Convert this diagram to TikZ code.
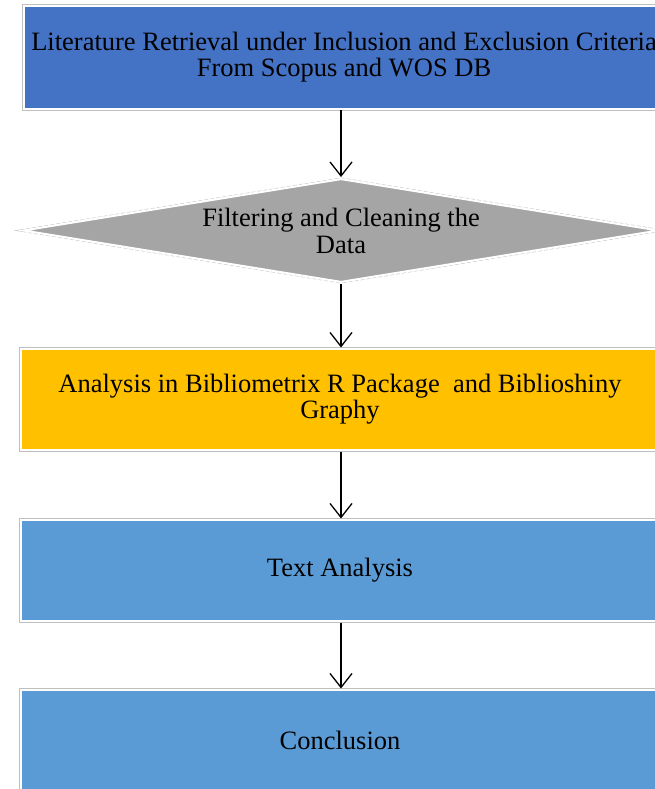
\documentclass[tikz,border=0pt]{standalone}
\usepackage{fontspec}
\setmainfont{Liberation Serif}
\usetikzlibrary{positioning}
\usetikzlibrary{shapes.geometric}
\usetikzlibrary{arrows.meta}

\definecolor{stepblue}{HTML}{4472C4}
\definecolor{stepgray}{HTML}{A5A5A5}
\definecolor{stepgold}{HTML}{FFC000}
\definecolor{steplight}{HTML}{5B9BD5}

\tikzset{
 stepbox/.style={rectangle,draw=white,line width=2pt,
   preaction={draw=gray!50,line width=3.2pt},
   minimum width=638pt,minimum height=101pt,inner sep=0pt,outer sep=1.5pt,
   align=center,font=\fontsize{26.5}{26}\selectfont},
 stepcheck/.style={diamond,draw=white,line width=2pt,
   preaction={draw=gray!40,line width=3.2pt,dash pattern=on 4pt off 2pt},
   shape aspect=6.1,minimum width=636pt,minimum height=104pt,inner sep=0pt,
   outer sep=1.5pt,align=center,font=\fontsize{26.5}{27}\selectfont},
 flow/.style={-{Straight Barb[length=14pt,width=22pt]},line width=1.3pt}
}

\begin{document}
\begin{tikzpicture}[x=1pt,y=-1pt]
 \useasboundingbox (0,0) rectangle (654,789);
 \node[stepbox,fill=stepblue,minimum width=640pt,minimum height=103pt] (retrieve) at (344,57.5)
   {Literature Retrieval under Inclusion and Exclusion Criteria\\From Scopus and WOS DB};
 \node[stepcheck,fill=stepgray] (filter) at (341,230.5)
   {Filtering and Cleaning the\\Data};
 \node[stepbox,fill=stepgold] (biblio) at (340,399.5)
   {Analysis in Bibliometrix R Package\ \ and Biblioshiny\\Graphy};
 \node[stepbox,fill=steplight] (text) at (340,570.5) {Text Analysis};
 \node[stepbox,fill=steplight] (concl) at (340,740.5) {Conclusion};

 \draw[flow] (retrieve.south -| filter.north) -- (filter.north);
 \draw[flow] (filter.south) -- (filter.south |- biblio.north);
 \draw[flow] (biblio.south -| filter.south) -- (filter.south |- text.north);
 \draw[flow] (text.south -| filter.south) -- (filter.south |- concl.north);
\end{tikzpicture}
\end{document}
